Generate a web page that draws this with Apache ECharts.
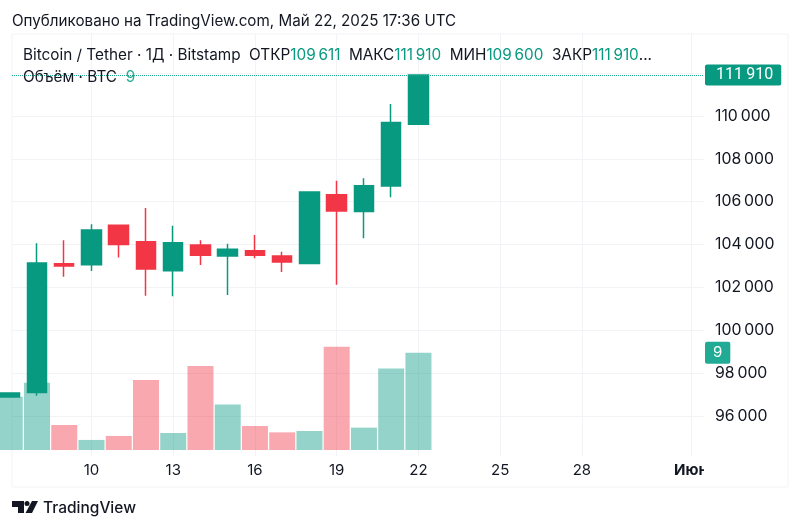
<!DOCTYPE html>
<html>
<head>
<meta charset="utf-8">
<style>
  html, body { margin: 0; padding: 0; background: #fff; }
  #chart { width: 800px; height: 530px; }
</style>
<script src="https://cdn.jsdelivr.net/npm/echarts@6/dist/echarts.min.js"></script>
</head>
<body>
<div id="chart"></div>
<script>
var days = [7, 8, 9, 10, 11, 12, 13, 14, 15, 16, 17, 18, 19, 20, 21, 22];
var opens = [96890, 97100, 103110, 103060, 104900, 104135, 102780, 103980, 103470, 103715, 103470, 103120, 106330, 105540, 106730, 109611];
var closes = [97075, 103140, 103000, 104680, 104000, 102860, 104090, 103500, 103780, 103500, 103190, 106450, 105570, 106750, 109700, 111910];
var lows = [96890, 96950, 102500, 102770, 103400, 101615, 101590, 103050, 101650, 103360, 102720, 103080, 102130, 104300, 106210, 109600];
var highs = [97075, 104060, 104200, 104950, 104900, 105710, 104880, 104200, 104040, 104450, 103670, 106450, 106980, 107090, 110560, 111910];
var volumes = [4.93, 6.23, 2.31, 0.93, 1.3, 6.48, 1.57, 7.77, 4.2, 2.22, 1.63, 1.76, 9.56, 2.07, 7.53, 9];
var xTicks = [10, 13, 16, 19, 22, 25, 28, 32];
var priceTicks = [96000, 98000, 100000, 102000, 104000, 106000, 108000, 110000, 112000];
var lastPrice = 111910;
var lastVolume = 9;

var UP = '#089981', DOWN = '#f23645';
var FONT = 'Inter, "Noto Sans", sans-serif';
var GRID = '#f2f3f6', TEXT = '#131722';

function fmtPrice(v) {
    return String(v).replace(/\B(?=(\d{3})+$)/g, '\u2009');
}

var candleData = days.map(function (d, i) {
    return [d, opens[i], closes[i], lows[i], highs[i]];
});
var volumeData = days.map(function (d, i) {
    return {
        value: [d, volumes[i]],
        itemStyle: { color: closes[i] >= opens[i] ? 'rgba(8,153,129,0.43)' : 'rgba(242,54,69,0.43)' }
    };
});

var chart = echarts.init(document.getElementById('chart'));
chart.setOption({
    animation: false,
    backgroundColor: '#fff',
    textStyle: { fontFamily: FONT },
    title: [
        {
            text: 'Опубликовано на TradingView.com, Май 22, 2025 17:36 UTC',
            left: 7, top: 9,
            textStyle: { fontFamily: FONT, fontSize: 15.2, fontWeight: 'normal', color: TEXT }
        },
        {
            text: 'Bitcoin / Tether · 1Д · Bitstamp  ОТКР{g|109\u2009611}  МАКС{g|111\u2009910}  МИН{g|109\u2009600}  ЗАКР{g|111\u2009910}...',
            left: 18, top: 43,
            textStyle: {
                fontFamily: FONT, fontSize: 15.3, fontWeight: 'normal', color: TEXT,
                rich: { g: { fontFamily: FONT, fontSize: 15.3, color: UP } }
            }
        },
        {
            text: 'Объём · BTC  {g|9}',
            left: 18, top: 65,
            textStyle: {
                fontFamily: FONT, fontSize: 15.3, fontWeight: 'normal', color: TEXT,
                rich: { g: { fontFamily: FONT, fontSize: 15.3, color: '#22ab94' } }
            }
        }
    ],
    grid: { left: 12, top: 34, width: 692, height: 422, containLabel: false },
    xAxis: {
        type: 'value',
        min: 7.083,
        max: 32.48,
        axisLine: { show: false },
        axisTick: { show: false, customValues: xTicks },
        splitLine: { show: true, lineStyle: { color: GRID, width: 1 } },
        axisLabel: {
            customValues: xTicks,
            margin: 7,
            fontFamily: FONT,
            fontSize: 15,
            color: TEXT,
            formatter: function (v) {
                return v === 32 ? '{b|Июн}' : String(v);
            },
            rich: { b: { fontFamily: FONT, fontSize: 15, fontWeight: 'bold', color: TEXT } }
        }
    },
    yAxis: [
        {
            type: 'value',
            position: 'right',
            min: 94135,
            max: 113826,
            axisLine: { show: false },
            axisTick: { show: false, customValues: priceTicks },
            splitLine: { show: true, lineStyle: { color: GRID, width: 1 } },
            axisLabel: {
                customValues: priceTicks.slice(0, -1),
                margin: 11,
                align: 'left',
                fontFamily: FONT,
                fontSize: 15.8,
                color: TEXT,
                formatter: fmtPrice
            }
        },
        {
            type: 'value',
            show: false,
            min: -0.555,
            max: 38.48,
            splitLine: { show: false }
        }
    ],
    series: [
        {
            type: 'bar',
            name: 'Объём',
            yAxisIndex: 1,
            barWidth: 26,
            clip: true,
            data: volumeData,
            markLine: {
                silent: true,
                symbol: 'none',
                lineStyle: { color: 'rgba(0,0,0,0)', width: 0 },
                data: [{ yAxis: lastVolume }],
                label: {
                    position: 'end',
                    distance: 1,
                    formatter: String(lastVolume),
                    color: '#fff',
                    fontFamily: FONT,
                    fontSize: 15,
                    backgroundColor: '#22ab94',
                    borderRadius: 2,
                    padding: [4, 8, 3, 8]
                }
            }
        },
        {
            type: 'candlestick',
            name: 'Bitcoin / Tether',
            barWidth: 20,
            clip: true,
            encode: { x: 0, y: [1, 2, 3, 4] },
            itemStyle: {
                color: UP, color0: DOWN,
                borderColor: UP, borderColor0: DOWN,
                borderWidth: 1.5
            },
            data: candleData,
            markLine: {
                silent: true,
                symbol: 'none',
                lineStyle: { color: '#1ba88f', type: 'dotted', width: 1, opacity: 1 },
                data: [{ yAxis: lastPrice }],
                label: {
                    position: 'end',
                    distance: 1,
                    formatter: fmtPrice(lastPrice),
                    color: '#fff',
                    fontFamily: 'Roboto, ' + FONT,
                    fontSize: 16,
                    backgroundColor: UP,
                    borderRadius: 2,
                    padding: [3, 8, 2, 11]
                }
            }
        }
    ],
    graphic: [
        // outer frame of the widget
        { type: 'rect', z: -1, shape: { x: 12, y: 34, width: 776, height: 453 }, style: { fill: 'none', stroke: GRID, lineWidth: 1 } },
        // the Июн label gets cut by the price scale
        { type: 'rect', z: 100, shape: { x: 704, y: 460, width: 30, height: 22 }, style: { fill: '#fff' } },
        // logo
        { type: 'polygon', z: 100, shape: { points: [[12, 501], [24, 501], [24, 513], [18, 513], [18, 507], [12, 507]] }, style: { fill: TEXT } },
        { type: 'circle', z: 100, shape: { cx: 27, cy: 503.5, r: 2.5 }, style: { fill: TEXT } },
        { type: 'polygon', z: 100, shape: { points: [[32, 501], [38, 501], [32, 513], [25.5, 513]] }, style: { fill: TEXT } },
        {
            type: 'text',
            z: 100,
            x: 43, y: 500,
            style: { text: 'TradingView', fill: TEXT, font: '500 15.5px ' + FONT }
        }
    ]
});
</script>
</body>
</html>
